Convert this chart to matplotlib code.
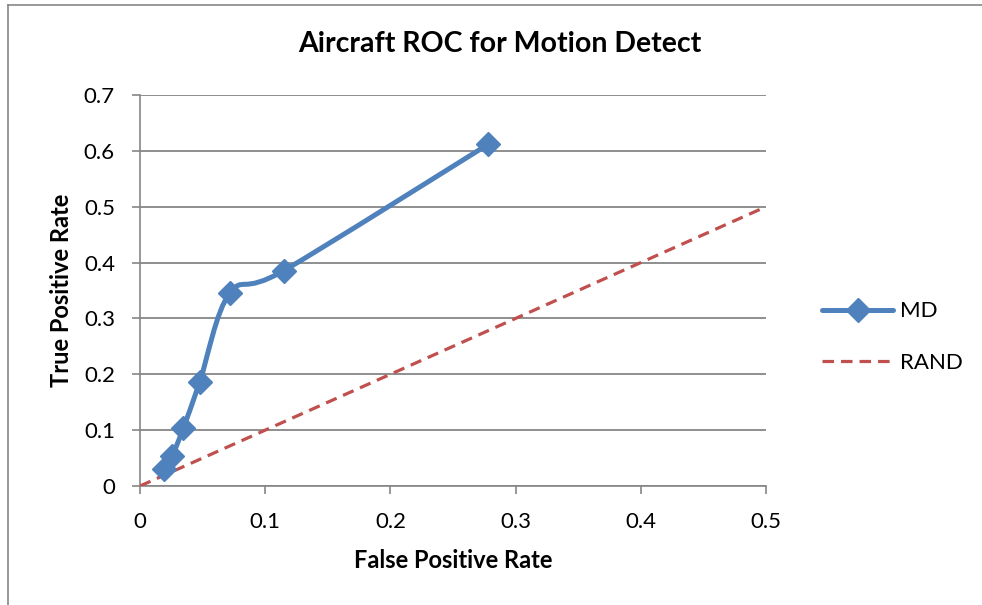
import numpy as np
import matplotlib
matplotlib.use('Agg')
import matplotlib.pyplot as plt
from matplotlib.path import Path
from matplotlib.patches import PathPatch
from matplotlib.lines import Line2D

plt.rcParams['font.family'] = ['Lato', 'DejaVu Sans']

# ROC points
md_fpr = [0.0194, 0.0257, 0.0345, 0.0477, 0.0716, 0.1149, 0.2783]
md_tpr = [0.0298, 0.0536, 0.103, 0.1863, 0.345, 0.3857, 0.612]
rand_fpr = [0.0, 0.5]
rand_tpr = [0.0, 0.5]

x_ticks = [0, 0.1, 0.2, 0.3, 0.4, 0.5]
x_labels = ['0', '0.1', '0.2', '0.3', '0.4', '0.5']
y_ticks = [0, 0.1, 0.2, 0.3, 0.4, 0.5, 0.6, 0.7]
y_labels = ['0', '0.1', '0.2', '0.3', '0.4', '0.5', '0.6', '0.7']

blue = '#4F81BD'
red = '#C0504D'
grid = '#868686'
dash = (0, (3.6, 2.2))


def smooth_path(xs, ys):
    # Excel-like smoothed line: Catmull-Rom turned into cubic Bezier segments
    p = np.column_stack([xs, ys])
    verts = [p[0]]
    codes = [Path.MOVETO]
    n = len(p)
    for i in range(n - 1):
        p0 = p[i - 1] if i > 0 else p[i]
        p1 = p[i]
        p2 = p[i + 1]
        p3 = p[i + 2] if i + 2 < n else p[i + 1]
        c1 = p1 + (p2 - p0) / 6
        c2 = p2 - (p3 - p1) / 6
        verts += [c1, c2, p2]
        codes += [Path.CURVE4] * 3
    return Path(verts, codes)


fig = plt.figure(figsize=(9.82, 6.05), dpi=100)
ax = fig.add_axes([140 / 982, 119 / 605, 626 / 982, 391 / 605])

ax.set_xlim(0, 0.5)
ax.set_ylim(0, 0.7)
ax.set_xticks(x_ticks, x_labels)
ax.set_yticks(y_ticks, y_labels)
ax.tick_params(labelsize=16, colors=grid, labelcolor='black', length=6, width=1.2)
ax.tick_params(axis='y', pad=12)
ax.tick_params(axis='x', pad=13)
ax.yaxis.grid(True, color=grid, lw=1.3)
ax.set_axisbelow(True)
for s in ['top', 'right']:
    ax.spines[s].set_visible(False)
for s in ['left', 'bottom']:
    ax.spines[s].set_color(grid)
    ax.spines[s].set_linewidth(1.2)

ax.plot(rand_fpr, rand_tpr, color=red, lw=2.3, ls=dash, zorder=3)
ax.add_patch(PathPatch(smooth_path(md_fpr, md_tpr), fill=False, edgecolor=blue,
                       lw=3.6, capstyle='round', zorder=4))
ax.plot(md_fpr, md_tpr, ls='none', marker='D', ms=12, color=blue, zorder=5)

fig.text(500 / 982, 1 - 44 / 605, 'Aircraft ROC for Motion Detect', fontsize=20.5,
         fontweight='bold', ha='center', va='center')
ax.set_xlabel('False Positive Rate', fontsize=17, fontweight='bold')
ax.set_ylabel('True Positive Rate', fontsize=17, fontweight='bold')
ax.xaxis.set_label_coords(0.5, (485 - 560) / 391)
ax.xaxis.label.set_va('center')
ax.yaxis.set_label_coords((62 - 140) / 626, 0.5)
ax.yaxis.label.set_va('center')

handles = [Line2D([], [], color=blue, lw=3.6, marker='D', ms=12, solid_capstyle='round'),
           Line2D([], [], color=red, lw=2.3, ls=dash)]
fig.legend(handles, ['MD', 'RAND'], loc='center left', bbox_to_anchor=(802 / 982, 1 - 337 / 605),
           frameon=False, fontsize=16, handlelength=3.2, labelspacing=1.4, handletextpad=0.3)

# chart frame edges visible in the page
fig.add_artist(Line2D([8 / 982, 8 / 982], [0, 1 - 5 / 605], color=grid, lw=1.2))
fig.add_artist(Line2D([8 / 982, 1], [1 - 5 / 605, 1 - 5 / 605], color=grid, lw=1.2))

fig.savefig('out.png', dpi=100)
